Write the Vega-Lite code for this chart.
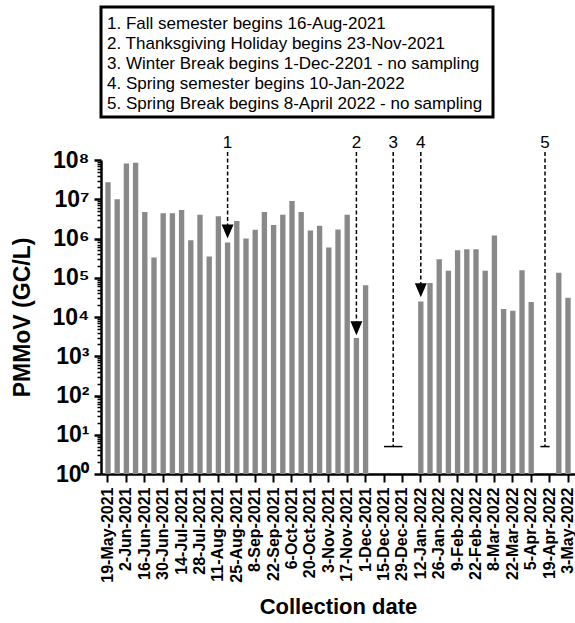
{
  "$schema": "https://vega.github.io/schema/vega-lite/v6.json",
  "padding": {"left": 11, "top": 5, "right": 0, "bottom": 0},
  "bounds": "flush",
  "spacing": 43,
  "config": {
    "font": "Liberation Sans",
    "axis": {"domainColor": "black", "tickColor": "black", "labelColor": "black", "titleColor": "black", "grid": false}
  },
  "datasets": {
    "notes": [
      {"n": 1, "text": "1. Fall semester begins 16-Aug-2021"},
      {"n": 2, "text": "2. Thanksgiving Holiday begins 23-Nov-2021"},
      {"n": 3, "text": "3. Winter Break begins 1-Dec-2201 - no sampling"},
      {"n": 4, "text": "4. Spring semester begins 10-Jan-2022"},
      {"n": 5, "text": "5. Spring Break begins 8-April 2022 - no sampling"}
    ],
    "pmmov": [
      {"date": "19-May-2021", "pmmov": 27000000},
      {"date": "26-May-2021", "pmmov": 10000000},
      {"date": "2-Jun-2021", "pmmov": 82000000},
      {"date": "9-Jun-2021", "pmmov": 85000000},
      {"date": "16-Jun-2021", "pmmov": 4700000},
      {"date": "23-Jun-2021", "pmmov": 330000},
      {"date": "30-Jun-2021", "pmmov": 4400000},
      {"date": "7-Jul-2021", "pmmov": 4400000},
      {"date": "14-Jul-2021", "pmmov": 5300000},
      {"date": "21-Jul-2021", "pmmov": 900000},
      {"date": "28-Jul-2021", "pmmov": 4000000},
      {"date": "4-Aug-2021", "pmmov": 350000},
      {"date": "11-Aug-2021", "pmmov": 3700000},
      {"date": "18-Aug-2021", "pmmov": 790000},
      {"date": "25-Aug-2021", "pmmov": 2800000},
      {"date": "1-Sep-2021", "pmmov": 1000000},
      {"date": "8-Sep-2021", "pmmov": 1660000},
      {"date": "15-Sep-2021", "pmmov": 4700000},
      {"date": "22-Sep-2021", "pmmov": 2200000},
      {"date": "29-Sep-2021", "pmmov": 4000000},
      {"date": "6-Oct-2021", "pmmov": 9000000},
      {"date": "13-Oct-2021", "pmmov": 4700000},
      {"date": "20-Oct-2021", "pmmov": 1600000},
      {"date": "27-Oct-2021", "pmmov": 2100000},
      {"date": "3-Nov-2021", "pmmov": 590000},
      {"date": "10-Nov-2021", "pmmov": 1700000},
      {"date": "17-Nov-2021", "pmmov": 4000000},
      {"date": "24-Nov-2021", "pmmov": 2900},
      {"date": "1-Dec-2021", "pmmov": 64000},
      {"date": "12-Jan-2022", "pmmov": 25000},
      {"date": "19-Jan-2022", "pmmov": 74000},
      {"date": "26-Jan-2022", "pmmov": 295000},
      {"date": "2-Feb-2022", "pmmov": 150000},
      {"date": "9-Feb-2022", "pmmov": 500000},
      {"date": "15-Feb-2022", "pmmov": 530000},
      {"date": "22-Feb-2022", "pmmov": 530000},
      {"date": "1-Mar-2022", "pmmov": 150000},
      {"date": "8-Mar-2022", "pmmov": 1200000},
      {"date": "15-Mar-2022", "pmmov": 16000},
      {"date": "22-Mar-2022", "pmmov": 14500},
      {"date": "29-Mar-2022", "pmmov": 155000},
      {"date": "5-Apr-2022", "pmmov": 24000},
      {"date": "26-Apr-2022", "pmmov": 135000},
      {"date": "3-May-2022", "pmmov": 31000}
    ],
    "arrows": [
      {"marker": "1", "date": "18-Aug-2021", "top": 160000000, "head": 1500000, "labelAt": 200000000},
      {"marker": "2", "date": "24-Nov-2021", "top": 160000000, "head": 5200, "labelAt": 200000000},
      {"marker": "3", "date": "22-Dec-2021", "top": 160000000, "head": 5, "labelAt": 200000000},
      {"marker": "4", "date": "12-Jan-2022", "top": 160000000, "head": 48000, "labelAt": 200000000}
    ],
    "spring": [
      {"marker": "5", "date": "12-Apr-2022", "top": 160000000, "head": 5, "labelAt": 200000000}
    ],
    "caps": [
      {"marker": "3", "date": "15-Dec-2021", "to": "29-Dec-2021", "level": 5},
      {"marker": "5", "date": "12-Apr-2022", "to": "19-Apr-2022", "level": 5}
    ]
  },
  "vconcat": [
    {
      "width": 392,
      "height": 110,
      "view": {"stroke": "black", "strokeWidth": 3},
      "data": {"name": "notes"},
      "mark": {"type": "text", "align": "left", "baseline": "middle", "fontSize": 17, "dx": 6, "dy": 2, "color": "black"},
      "encoding": {
        "x": {"datum": 0, "type": "quantitative", "scale": {"domain": [0, 1]}, "axis": null},
        "y": {"field": "n", "type": "ordinal", "scale": {"type": "point", "padding": 0.75}, "axis": null},
        "text": {"field": "text"}
      }
    },
    {
      "width": 474,
      "height": 314,
      "view": {"stroke": null},
      "encoding": {
        "x": {
          "field": "date",
          "type": "ordinal",
          "scale": {
            "type": "band",
            "paddingInner": 0,
            "paddingOuter": 0.26,
            "domain": ["19-May-2021","26-May-2021","2-Jun-2021","9-Jun-2021","16-Jun-2021","23-Jun-2021","30-Jun-2021","7-Jul-2021","14-Jul-2021","21-Jul-2021","28-Jul-2021","4-Aug-2021","11-Aug-2021","18-Aug-2021","25-Aug-2021","1-Sep-2021","8-Sep-2021","15-Sep-2021","22-Sep-2021","29-Sep-2021","6-Oct-2021","13-Oct-2021","20-Oct-2021","27-Oct-2021","3-Nov-2021","10-Nov-2021","17-Nov-2021","24-Nov-2021","1-Dec-2021","8-Dec-2021","15-Dec-2021","22-Dec-2021","29-Dec-2021","5-Jan-2022","12-Jan-2022","19-Jan-2022","26-Jan-2022","2-Feb-2022","9-Feb-2022","15-Feb-2022","22-Feb-2022","1-Mar-2022","8-Mar-2022","15-Mar-2022","22-Mar-2022","29-Mar-2022","5-Apr-2022","12-Apr-2022","19-Apr-2022","26-Apr-2022","3-May-2022"]
          },
          "axis": {
            "title": "Collection date",
            "titleFontSize": 22,
            "titleFontWeight": "bold",
            "titlePadding": 14,
            "values": ["19-May-2021","2-Jun-2021","16-Jun-2021","30-Jun-2021","14-Jul-2021","28-Jul-2021","11-Aug-2021","25-Aug-2021","8-Sep-2021","22-Sep-2021","6-Oct-2021","20-Oct-2021","3-Nov-2021","17-Nov-2021","1-Dec-2021","15-Dec-2021","29-Dec-2021","12-Jan-2022","26-Jan-2022","9-Feb-2022","22-Feb-2022","8-Mar-2022","22-Mar-2022","5-Apr-2022","19-Apr-2022","3-May-2022"],
            "labelAngle": -90,
            "labelFontSize": 16,
            "labelFontWeight": "bold",
            "labelPadding": 5,
            "labelOverlap": false,
            "tickSize": 8,
            "tickWidth": 2,
            "domainWidth": 2.5,
            "bandPosition": 0.5
          }
        }
      },
      "layer": [
        {
          "data": {"name": "pmmov"},
          "mark": {"type": "bar", "color": "#898989", "width": {"band": 0.58}},
          "encoding": {
            "y": {
              "field": "pmmov",
              "type": "quantitative",
              "scale": {"type": "log", "domain": [1, 100000000], "nice": false},
              "axis": {
                "title": "PMMoV (GC/L)",
                "titleFontSize": 23,
                "titleFontWeight": "bold",
                "titlePadding": 18,
                "values": [1,2,3,4,5,6,7,8,9,10,20,30,40,50,60,70,80,90,100,200,300,400,500,600,700,800,900,1000,2000,3000,4000,5000,6000,7000,8000,9000,10000,20000,30000,40000,50000,60000,70000,80000,90000,100000,200000,300000,400000,500000,600000,700000,800000,900000,1000000,2000000,3000000,4000000,5000000,6000000,7000000,8000000,9000000,10000000,20000000,30000000,40000000,50000000,60000000,70000000,80000000,90000000,100000000],
                "labelExpr": "abs(log(datum.value)/LN10 - round(log(datum.value)/LN10)) < 0.001 ? '10' + ['⁰','¹','²','³','⁴','⁵','⁶','⁷','⁸'][round(log(datum.value)/LN10)] : ''",
                "labelFontSize": 23,
                "labelFontWeight": "bold",
                "labelPadding": 5,
                "labelOverlap": false,
                "labelBound": false,
                "labelFlush": false,
                "tickSize": {"condition": {"test": "abs(log(datum.value)/LN10 - round(log(datum.value)/LN10)) < 0.001", "value": 7}, "value": 4},
                "tickWidth": {"condition": {"test": "abs(log(datum.value)/LN10 - round(log(datum.value)/LN10)) < 0.001", "value": 2.5}, "value": 1.5},
                "domainWidth": 2.5
              }
            },
            "y2": {"datum": 1}
          }
        },
        {
          "data": {"name": "arrows"},
          "mark": {"type": "rule", "color": "black", "strokeWidth": 1.5, "strokeDash": [4, 2.5]},
          "encoding": {
            "y": {"field": "top", "type": "quantitative"},
            "y2": {"field": "head"}
          }
        },
        {
          "data": {"name": "arrows"},
          "transform": [{"filter": "datum.marker != '3'"}],
          "mark": {"type": "point", "shape": "M-0.85,-1L0.85,-1L0,1Z", "filled": true, "color": "black", "opacity": 1, "size": 196},
          "encoding": {
            "y": {"field": "head", "type": "quantitative"}
          }
        },
        {
          "data": {"name": "arrows"},
          "mark": {"type": "text", "fontSize": 17, "baseline": "alphabetic", "color": "black"},
          "encoding": {
            "y": {"field": "labelAt", "type": "quantitative"},
            "text": {"field": "marker"}
          }
        },
        {
          "data": {"name": "caps"},
          "mark": {"type": "rule", "color": "black", "strokeWidth": 1.5},
          "encoding": {
            "x2": {"field": "to"},
            "y": {"field": "level", "type": "quantitative"}
          }
        },
        {
          "data": {"name": "spring"},
          "layer": [
            {
              "mark": {"type": "rule", "color": "black", "strokeWidth": 1.5, "strokeDash": [4, 2.5]},
              "encoding": {
                "x": {"field": "date", "type": "ordinal", "bandPosition": 1},
                "y": {"field": "top", "type": "quantitative"},
                "y2": {"field": "head"}
              }
            },
            {
              "mark": {"type": "text", "fontSize": 17, "baseline": "alphabetic", "color": "black"},
              "encoding": {
                "x": {"field": "date", "type": "ordinal", "bandPosition": 1},
                "y": {"field": "labelAt", "type": "quantitative"},
                "text": {"field": "marker"}
              }
            }
          ]
        }
      ]
    }
  ]
}
